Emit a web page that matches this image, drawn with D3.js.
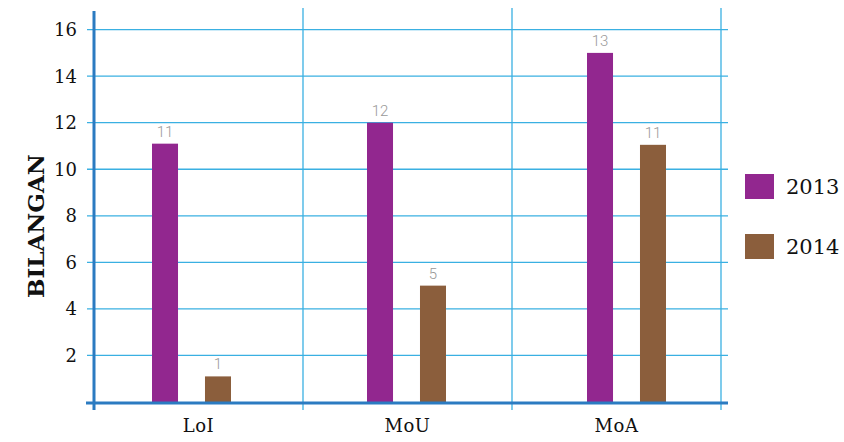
<!DOCTYPE html>
<html>
<head>
<meta charset="utf-8">
<script src="https://cdn.jsdelivr.net/npm/d3@7"></script>
<style>
  body { margin: 0; background: #fff; }
  svg { display: block; }
</style>
</head>
<body>
<div id="app"></div>
<script>
// Chart data
const categories = ['LoI', 'MoU', 'MoA'];
const series = ['2013', '2014'];
const values2013 = [11.1, 12, 15];
const values2014 = [1.1, 5, 11.05];
const labels2013 = ['11', '12', '13'];
const labels2014 = ['1', '5', '11'];
const yTicks = [2, 4, 6, 8, 10, 12, 14, 16];

const colors = { '2013': '#92278F', '2014': '#8B5E3C' };
const gridColor = '#3AB0E2';
const axisColor = '#2B7BC1';

const W = 844, H = 442;
const plot = { left: 94, right: 721, top: 11, bottom: 402 };

const svg = d3.select('#app').append('svg')
  .attr('width', W)
  .attr('height', H);

// Scales
const x0 = d3.scaleBand().domain(categories).range([plot.left, plot.right]).padding(0);
// bar groups sit a little off-centre in each band, as in the original
const groupX = d3.scaleOrdinal().domain(categories).range([152, 367, 587]);
const x1 = d3.scaleBand().domain(series).range([0, 79]).paddingInner(0.509).paddingOuter(0);
const y = d3.scaleLinear().domain([0, 16.8]).range([plot.bottom, plot.top]);

// Horizontal gridlines
svg.append('g')
  .selectAll('line')
  .data(yTicks)
  .join('line')
  .attr('x1', plot.left - 7)
  .attr('x2', plot.right + 7)
  .attr('y1', d => y(d))
  .attr('y2', d => y(d))
  .attr('stroke', gridColor)
  .attr('stroke-width', 1.3);

// Vertical gridlines at category boundaries
svg.append('g')
  .selectAll('line')
  .data(categories)
  .join('line')
  .attr('x1', d => x0(d) + x0.bandwidth())
  .attr('x2', d => x0(d) + x0.bandwidth())
  .attr('y1', plot.top - 3)
  .attr('y2', plot.bottom + 8)
  .attr('stroke', gridColor)
  .attr('stroke-width', 1.3);

// Bars
const rows = categories.map((c, i) => ({
  cat: c,
  bars: [
    { s: '2013', v: values2013[i], label: labels2013[i] },
    { s: '2014', v: values2014[i], label: labels2014[i] }
  ]
}));

const groups = svg.append('g')
  .selectAll('g')
  .data(rows)
  .join('g')
  .attr('transform', d => `translate(${groupX(d.cat)},0)`);

groups.selectAll('rect')
  .data(d => d.bars)
  .join('rect')
  .attr('x', d => x1(d.s))
  .attr('y', d => y(d.v))
  .attr('width', x1.bandwidth())
  .attr('height', d => y(0) - y(d.v))
  .attr('fill', d => colors[d.s]);

groups.selectAll('text')
  .data(d => d.bars)
  .join('text')
  .attr('x', d => x1(d.s) + x1.bandwidth() / 2)
  .attr('y', d => y(d.v) - 7)
  .attr('text-anchor', 'middle')
  .attr('font-family', 'Roboto, sans-serif')
  .attr('font-weight', 300)
  .attr('font-size', 15)
  .attr('fill', '#999')
  .text(d => d.label);

// Axes lines
svg.append('line')
  .attr('x1', plot.left).attr('x2', plot.left)
  .attr('y1', plot.top).attr('y2', plot.bottom + 8)
  .attr('stroke', axisColor).attr('stroke-width', 3);

svg.append('line')
  .attr('x1', plot.left - 8).attr('x2', plot.right + 7)
  .attr('y1', y(0) + 1).attr('y2', y(0) + 1)
  .attr('stroke', axisColor).attr('stroke-width', 3);

// Y tick labels
svg.append('g')
  .selectAll('text')
  .data(yTicks)
  .join('text')
  .attr('x', 77)
  .attr('y', d => y(d))
  .attr('dy', '0.36em')
  .attr('text-anchor', 'end')
  .attr('font-family', 'DejaVu Serif, serif')
  .attr('font-size', 18)
  .attr('fill', '#111')
  .text(d => d);

// X category labels
svg.append('g')
  .selectAll('text')
  .data(categories)
  .join('text')
  .attr('x', d => x0(d) + x0.bandwidth() / 2)
  .attr('y', 432)
  .attr('text-anchor', 'middle')
  .attr('font-family', 'DejaVu Serif, serif')
  .attr('font-size', 18)
  .attr('letter-spacing', 0.5)
  .attr('fill', '#111')
  .text(d => d);

// Y axis title
svg.append('text')
  .attr('transform', 'rotate(-90)')
  .attr('x', -226)
  .attr('y', 44)
  .attr('text-anchor', 'middle')
  .attr('font-family', 'DejaVu Serif, serif')
  .attr('font-weight', 'bold')
  .attr('font-size', 23)
  .attr('fill', '#111')
  .text('BILANGAN');

// Legend
const legend = svg.append('g')
  .selectAll('g')
  .data(series)
  .join('g')
  .attr('transform', (d, i) => `translate(745,${174 + i * 60})`);

legend.append('rect')
  .attr('width', 29)
  .attr('height', 25)
  .attr('fill', d => colors[d]);

legend.append('text')
  .attr('x', 41)
  .attr('y', 12.5)
  .attr('dy', '0.36em')
  .attr('font-family', 'DejaVu Serif, serif')
  .attr('font-size', 21)
  .attr('fill', '#111')
  .text(d => d);
</script>
</body>
</html>
